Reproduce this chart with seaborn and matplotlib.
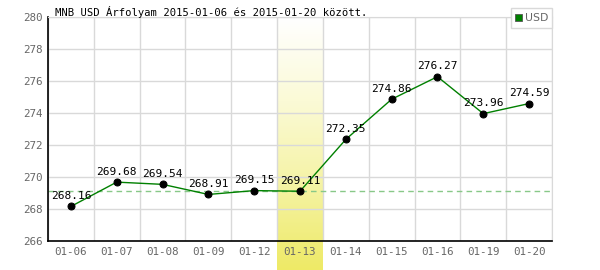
import numpy as np
import pandas as pd
import matplotlib
matplotlib.use("Agg")
import matplotlib.pyplot as plt
import seaborn as sns
from matplotlib.colors import LinearSegmentedColormap
from matplotlib.patches import Rectangle

dates = ["01-06", "01-07", "01-08", "01-09", "01-12", "01-13", "01-14", "01-15", "01-16", "01-19", "01-20"]
values = [268.16, 269.68, 269.54, 268.91, 269.15, 269.11, 272.35, 274.86, 276.27, 273.96, 274.59]
highlight = "01-13"
ref_value = 269.11
y_ticks = [266, 268, 270, 272, 274, 276, 278, 280]
title = "MNB USD Árfolyam 2015-01-06 és 2015-01-20 között."
series_name = "USD"

sns.set_style("white")
plt.rcParams['font.family'] = ['DejaVu Sans Mono', 'DejaVu Sans']

df = pd.DataFrame({"pos": np.arange(len(dates)), "date": dates, "value": values})

fig = plt.figure(figsize=(6, 2.7), dpi=100)
ax = fig.add_axes([48/600, 1-241/270, 504/600, 224/270])

# highlight band with gradient
hi = dates.index(highlight)
cmap = LinearSegmentedColormap.from_list("hl", ["#ffffff", "#fbfad6", "#f5f3a4", "#eeea66"])
grad = np.linspace(0, 1, 256).reshape(-1, 1)
ybot = y_ticks[0] - (270 - 241) / 16.0
ax.imshow(grad, aspect="auto", cmap=cmap, origin="upper",
          extent=[hi - 0.5, hi + 0.5, ybot, y_ticks[-1]], zorder=0, clip_on=False)
ax.set_xlim(-0.5, len(dates) - 0.5)
ax.set_ylim(y_ticks[0], y_ticks[-1])

# grid
ax.set_yticks(y_ticks)
ax.set_xticks(df["pos"])
ax.set_xticklabels(dates)
ax.set_xticks(np.arange(-0.5, len(dates), 1), minor=True)
ax.grid(True, which="major", axis="y", color="#d9d9d9", lw=1, zorder=1)
ax.grid(True, which="minor", axis="x", color="#d9d9d9", lw=1, zorder=1)
ax.tick_params(which="both", length=0)
ax.tick_params(axis="both", colors="#666666", labelsize=7.8)
ax.tick_params(axis="x", pad=4)
ax.tick_params(axis="y", pad=4)

for s in ["top", "right"]:
    ax.spines[s].set_color("#d9d9d9")
for s in ["left", "bottom"]:
    ax.spines[s].set_color("black")
    ax.spines[s].set_linewidth(1.2)

ax.axhline(ref_value, color="#88c888", lw=1, ls=(0, (4, 3)), zorder=2)

sns.lineplot(data=df, x="pos", y="value", ax=ax, color="#008000", lw=1,
             marker="o", markersize=5, markerfacecolor="black",
             markeredgecolor="black", zorder=3, legend=False)

for p, v in zip(df["pos"], df["value"]):
    ax.annotate(f"{v:.2f}", (p, v), xytext=(0, 4), textcoords="offset points",
                ha="center", va="bottom", fontsize=8, color="black", zorder=4)

ax.set_xlabel("")
ax.set_ylabel("")

fig.text(55/600, 1-12/270, title, fontsize=7.6, color="black", va="center", ha="left")

# legend box
fig.patches.append(Rectangle((511/600, 1-28/270), 41/600, 20/270, transform=fig.transFigure,
                             facecolor="white", edgecolor="#d9d9d9", lw=1, zorder=5))
fig.patches.append(Rectangle((515/600, 1-21/270), 7/600, 7/270, transform=fig.transFigure,
                             facecolor="#008000", edgecolor="#555555", lw=0.6, zorder=6))
fig.text(525/600, 1-18/270, series_name, fontsize=7.8, color="#666666", va="center", ha="left",
         family="DejaVu Sans", zorder=7)

fig.savefig("out.png", dpi=100)
